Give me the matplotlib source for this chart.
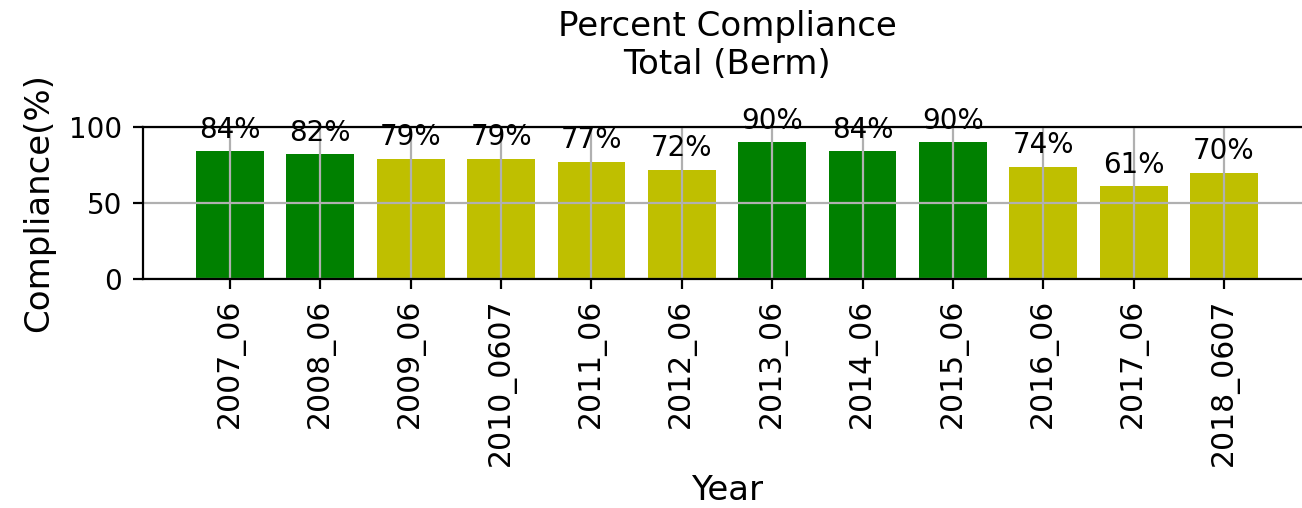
import matplotlib
matplotlib.use("Agg")
import matplotlib.pyplot as plt
import numpy as np

# значения с графика
years = ["2007_06", "2008_06", "2009_06", "2010_0607", "2011_06", "2012_06",
         "2013_06", "2014_06", "2015_06", "2016_06", "2017_06", "2018_0607"]
compliance = [84, 82, 79, 79, 77, 72, 90, 84, 90, 74, 61, 70]

plt.rcParams["font.family"] = ["DejaVu Sans"]
fs_small = 20
fs_big = 24.5

fig = plt.figure(figsize=(13.02, 5.08), dpi=100)
ax = fig.add_axes([143 / 1302, 1 - 279 / 508, (1311 - 143) / 1302, 152 / 508])

# зелёный если >= 80, иначе оливковый
colors = ["green" if v >= 80 else "y" for v in compliance]
x = np.arange(len(years))
ax.bar(x, compliance, width=0.75, color=colors)

for xi, v in zip(x, compliance):
    ax.text(xi, v + 5, f"{v}%", ha="center", va="bottom", fontsize=fs_small)

ax.set_ylim(0, 100)
ax.set_yticks([0, 50, 100])
ax.set_xticks(x)
ax.set_xticklabels(years, rotation=90)
ax.tick_params(labelsize=fs_small, length=7, width=1.6, pad=8)
ax.tick_params(axis="x", labelsize=21.5, pad=7)
ax.grid(True, color="#b0b0b0", linewidth=1.6)

for s in ax.spines.values():
    s.set_linewidth(1.6)

ax.set_title("Percent Compliance\nTotal (Berm)", fontsize=fs_big, pad=38)
ax.set_xlabel("Year", fontsize=fs_big, labelpad=6)
ax.set_ylabel("Compliance(%)", fontsize=fs_big, labelpad=10)

fig.savefig("out.png", dpi=100)
